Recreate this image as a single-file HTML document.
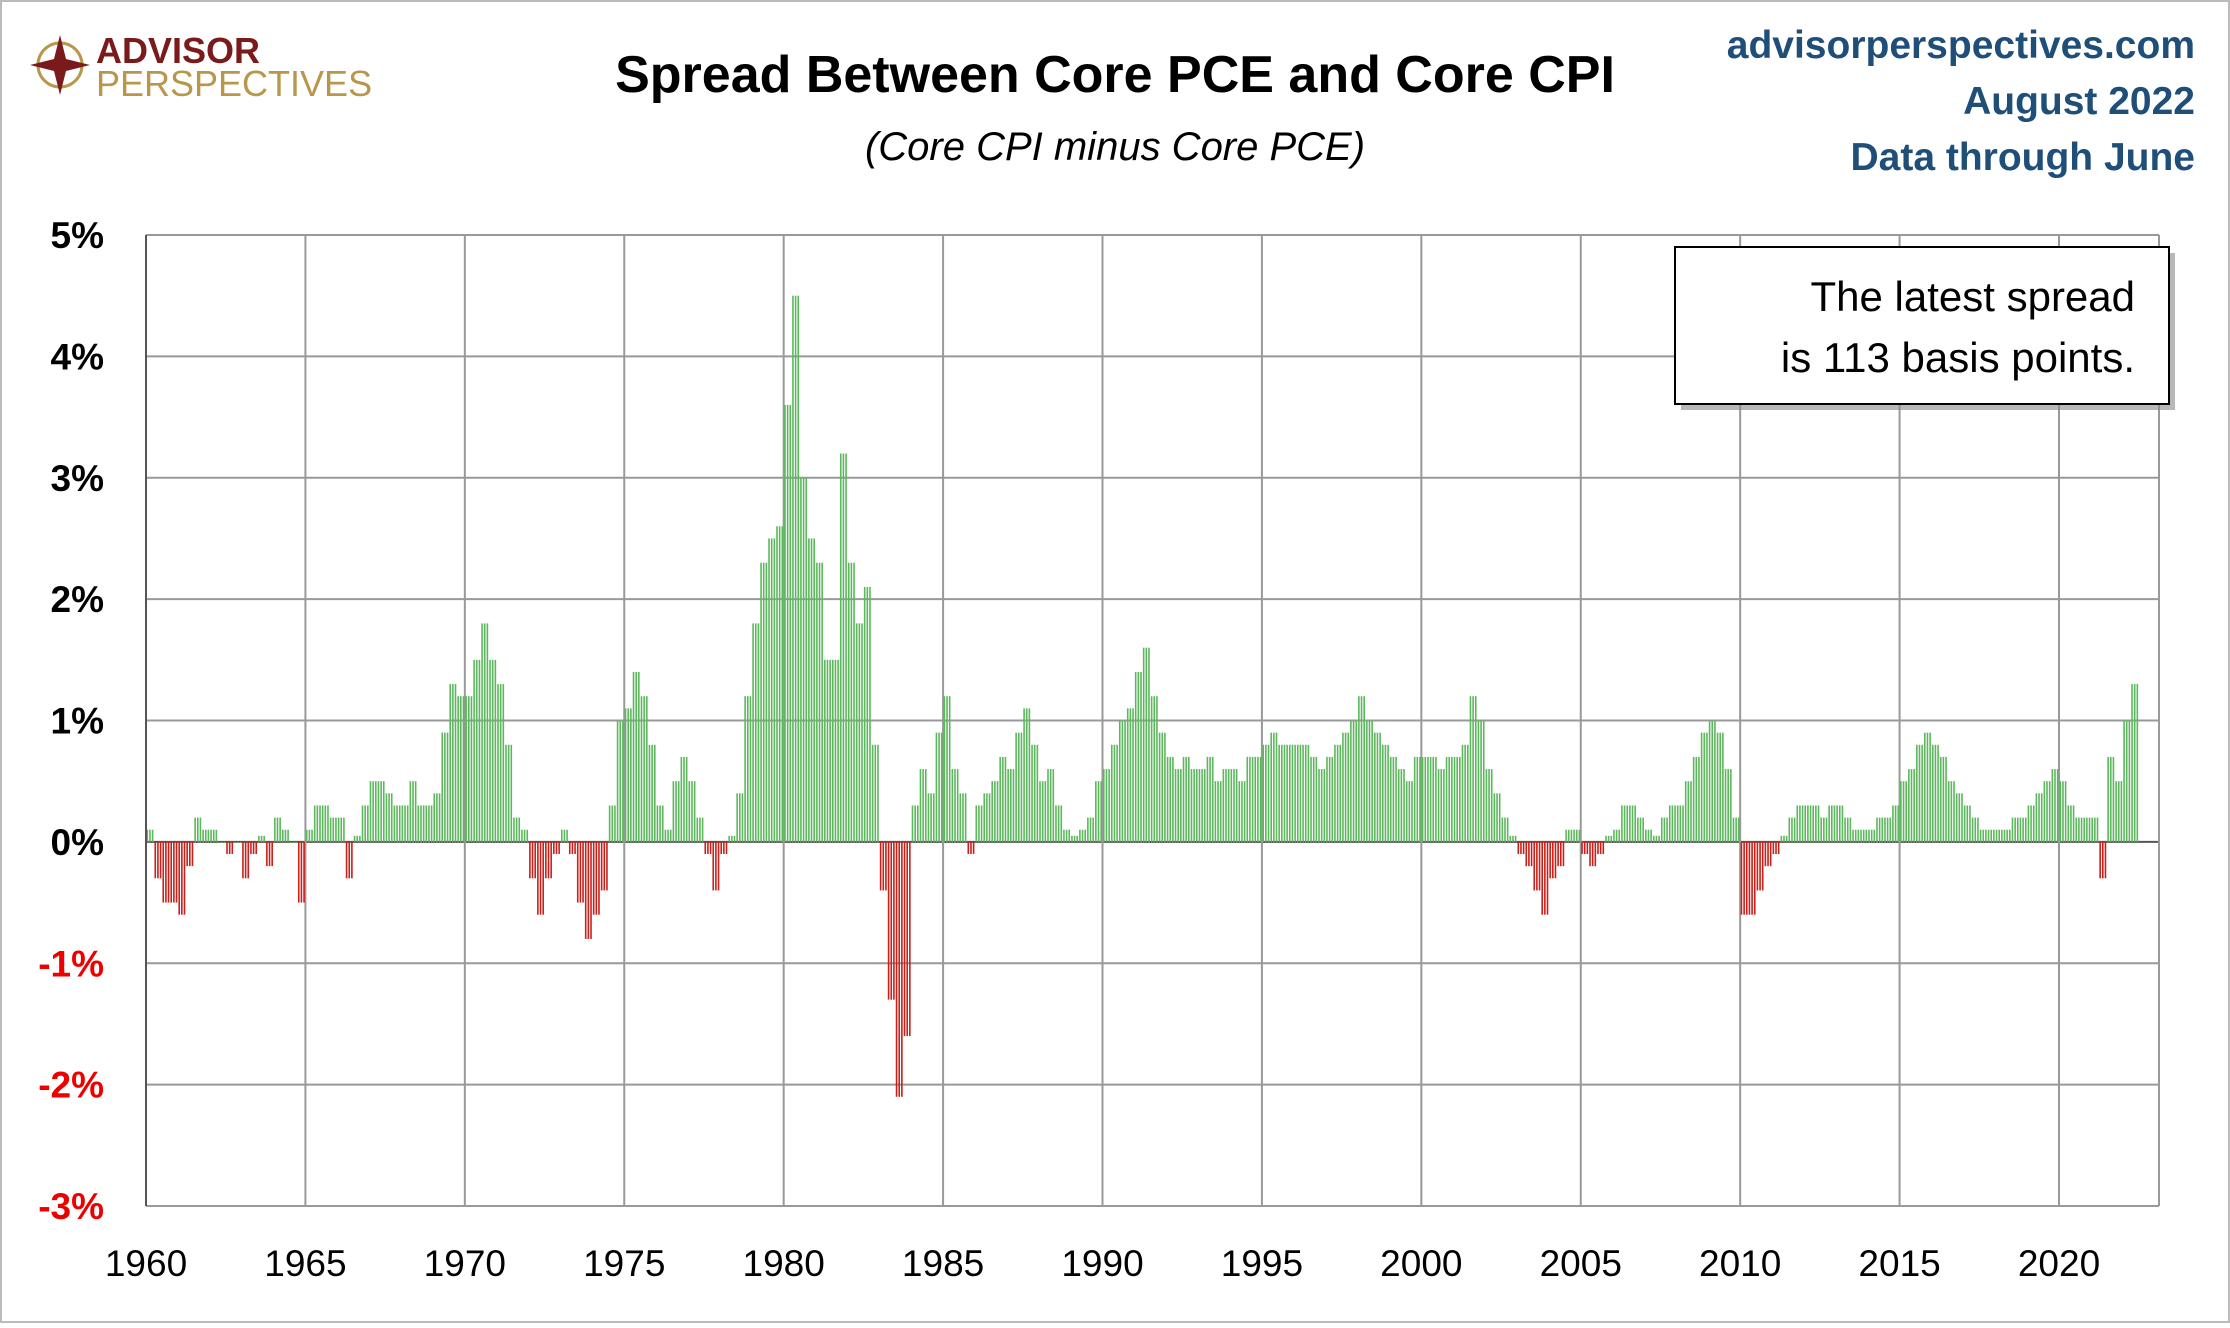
<!DOCTYPE html>
<html><head><meta charset="utf-8"><style>
body{margin:0;background:#fff;width:2230px;height:1323px;overflow:hidden;font-family:"Liberation Sans",sans-serif}
</style></head><body>
<svg width="2230" height="1323" xmlns="http://www.w3.org/2000/svg">
<rect x="1" y="1" width="2228" height="1321" fill="#fff" stroke="#bbb" stroke-width="2"/>
<g>
<circle cx="60" cy="65" r="22" fill="none" stroke="#b8974a" stroke-width="3"/>
<polygon points="60,35 66,59 90,65 66,71 60,95 54,71 30,65 54,59" fill="#7a1a1a"/>
<text x="96" y="63" font-size="36" font-weight="bold" fill="#7a1a1a">ADVISOR</text>
<text x="96" y="96" font-size="36" fill="#b8974a">PERSPECTIVES</text>
</g>
<text x="1115" y="92" text-anchor="middle" font-size="52" font-weight="bold" fill="#000">Spread Between Core PCE and Core CPI</text>
<text x="1115" y="160" text-anchor="middle" font-size="40" font-style="italic" fill="#000">(Core CPI minus Core PCE)</text>
<g font-size="39" font-weight="bold" fill="#1f4e79" text-anchor="end">
<text x="2195" y="58">advisorperspectives.com</text>
<text x="2195" y="114">August 2022</text>
<text x="2195" y="170">Data through June</text>
</g>
<g id="grid"></g>
<g id="bars"></g>
<g id="axes"></g>
<g>
<rect x="1681" y="253" width="494" height="157" fill="#888" opacity="0.6"/>
<rect x="1675" y="247" width="494" height="157" fill="#fff" stroke="#000" stroke-width="2"/>
<text x="2135" y="311" text-anchor="end" font-size="42" fill="#000">The latest spread</text>
<text x="2135" y="372" text-anchor="end" font-size="42" fill="#000">is 113 basis points.</text>
</g>
</svg>
<script>
const yTicks=[5,4,3,2,1,0,-1,-2,-3];
const xTicks=[1960,1965,1970,1975,1980,1985,1990,1995,2000,2005,2010,2015,2020];
const startYear=1960;
const spread=[
0.1,-0.3,-0.5,-0.5, -0.6,-0.2,0.2,0.1, 0.1,0.0,-0.1,0.0, -0.3,-0.1,0.05,-0.2, 0.2,0.1,0.0,-0.5,
0.1,0.3,0.3,0.2, 0.2,-0.3,0.05,0.3, 0.5,0.5,0.4,0.3, 0.3,0.5,0.3,0.3, 0.4,0.9,1.3,1.2,
1.2,1.5,1.8,1.5, 1.3,0.8,0.2,0.1, -0.3,-0.6,-0.3,-0.1, 0.1,-0.1,-0.5,-0.8, -0.6,-0.4,0.3,1.0,
1.1,1.4,1.2,0.8, 0.3,0.1,0.5,0.7, 0.5,0.2,-0.1,-0.4, -0.1,0.05,0.4,1.2, 1.8,2.3,2.5,2.6,
3.6,4.5,3.0,2.5, 2.3,1.5,1.5,3.2, 2.3,1.8,2.1,0.8, -0.4,-1.3,-2.1,-1.6, 0.3,0.6,0.4,0.9,
1.2,0.6,0.4,-0.1, 0.3,0.4,0.5,0.7, 0.6,0.9,1.1,0.8, 0.5,0.6,0.3,0.1, 0.05,0.1,0.2,0.5,
0.6,0.8,1.0,1.1, 1.4,1.6,1.2,0.9, 0.7,0.6,0.7,0.6, 0.6,0.7,0.5,0.6, 0.6,0.5,0.7,0.7,
0.8,0.9,0.8,0.8, 0.8,0.8,0.7,0.6, 0.7,0.8,0.9,1.0, 1.2,1.0,0.9,0.8, 0.7,0.6,0.5,0.7,
0.7,0.7,0.6,0.7, 0.7,0.8,1.2,1.0, 0.6,0.4,0.2,0.05, -0.1,-0.2,-0.4,-0.6, -0.3,-0.2,0.1,0.1,
-0.1,-0.2,-0.1,0.05, 0.1,0.3,0.3,0.2, 0.1,0.05,0.2,0.3, 0.3,0.5,0.7,0.9, 1.0,0.9,0.6,0.2,
-0.6,-0.6,-0.4,-0.2, -0.1,0.05,0.2,0.3, 0.3,0.3,0.2,0.3, 0.3,0.2,0.1,0.1, 0.1,0.2,0.2,0.3,
0.5,0.6,0.8,0.9, 0.8,0.7,0.5,0.4, 0.3,0.2,0.1,0.1, 0.1,0.1,0.2,0.2, 0.3,0.4,0.5,0.6,
0.5,0.3,0.2,0.2, 0.2,-0.3,0.7,0.5, 1.0,1.3
];
const NS='http://www.w3.org/2000/svg';
const L=146,R=2159,T=235,B=1206,yMax=5,yMin=-3;
const xOf=yr=>L+(yr-1960)*((2059-146)/60);
const yOf=v=>T+(yMax-v)*(B-T)/(yMax-yMin);
function mk(tag,attrs,parent){const e=document.createElementNS(NS,tag);for(const k in attrs)e.setAttribute(k,attrs[k]);parent.appendChild(e);return e;}
const grid=document.getElementById('grid'),bars=document.getElementById('bars'),axes=document.getElementById('axes');
yTicks.forEach(v=>{
 const l=mk('line',{x1:L,x2:R,y1:yOf(v),y2:yOf(v),stroke:v===0?'#555':'#999','stroke-width':2},grid);
 
 
 const t=mk('text',{x:L-42,y:yOf(v)+13,'text-anchor':'end','font-size':37,'font-weight':'bold',fill:v<0?'#e00':'#000'},axes);
 t.textContent=v+'%';
 
 
});
xTicks.forEach(yr=>{
 const l=mk('line',{x1:xOf(yr),x2:xOf(yr),y1:T,y2:B,stroke:'#999','stroke-width':2},grid);
 
 
 const t=mk('text',{x:xOf(yr),y:B+70,'text-anchor':'middle','font-size':37,fill:'#000'},axes);
 t.textContent=yr;
 
 
});
const rl=mk('line',{x1:R,x2:R,y1:T,y2:B,stroke:'#999','stroke-width':2},grid);


const al=mk('line',{x1:L,x2:L,y1:T,y2:B,stroke:'#555','stroke-width':2},axes);


const qw=(xOf(1961)-xOf(1960))/4;
spread.forEach((v,i)=>{
 const x=xOf(startYear+i/4);
 const y0=yOf(0),y1=yOf(v);
 for(let k=0;k<3;k++){
  const r=mk('rect',{x:x+k*qw/3+0.5,y:Math.min(y0,y1),width:1.6,height:Math.max(1,Math.abs(y1-y0)),fill:v>=0?'#5cb85c':'#c8201a'},bars);
  
  
 }
});
</script>
</body></html>
